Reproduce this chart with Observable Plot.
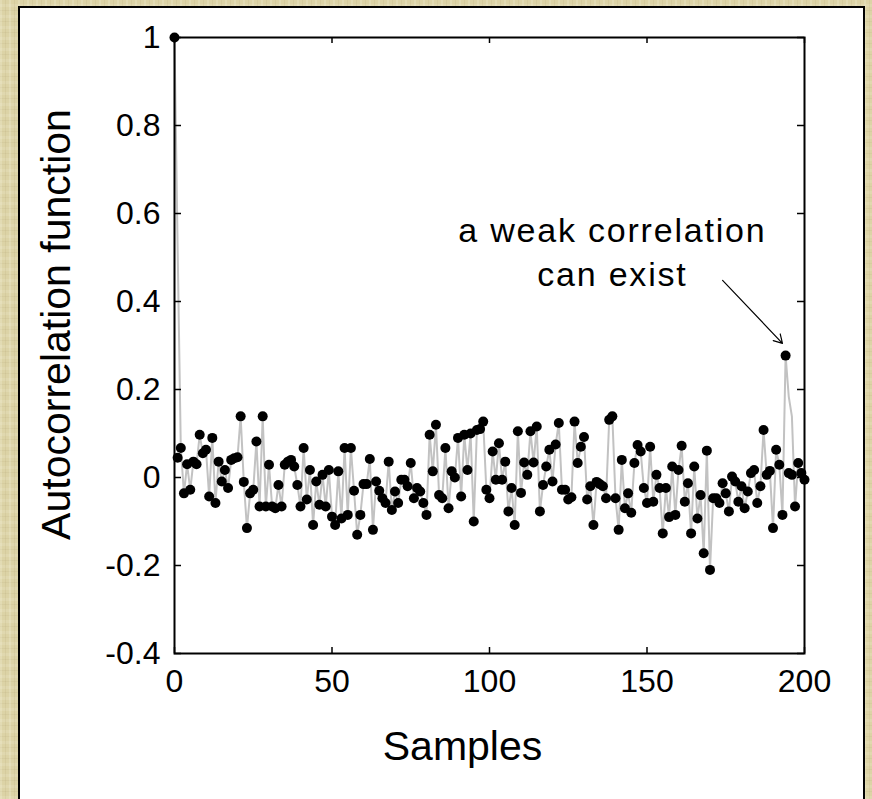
<!DOCTYPE html>
<html>
<head>
<meta charset="utf-8">
<script src="https://cdn.jsdelivr.net/npm/d3@7"></script>
<script src="https://cdn.jsdelivr.net/npm/@observablehq/plot@0.6"></script>
<style>
html, body { margin: 0; padding: 0; width: 872px; height: 799px; overflow: hidden; }
body {
  background-color: #dcd3a6;
  background-image:
    repeating-linear-gradient(90deg, rgba(255,255,240,0.18) 0 2px, rgba(0,0,0,0) 2px 5px, rgba(150,130,80,0.10) 5px 6px, rgba(0,0,0,0) 6px 9px),
    repeating-linear-gradient(0deg, rgba(255,255,240,0.12) 0 3px, rgba(0,0,0,0) 3px 7px, rgba(140,120,70,0.08) 7px 8px, rgba(0,0,0,0) 8px 11px);
  position: relative;
}
#panel { position: absolute; left: 18px; top: 6px; width: 843px; height: 820px; background: #fff; border: 2px solid #000; }
#chart { position: absolute; left: 0; top: 0; }
</style>
</head>
<body>
<div id="panel"></div>
<div id="chart"></div>
<script>
// Autocorrelation values for lags 0..200 (dots)
const acf = [
  1.0, 0.045, 0.067, -0.036, 0.03, -0.028, 0.036, 0.03, 0.097, 0.055,
  0.063, -0.043, 0.09, -0.058, 0.036, -0.009, 0.017, -0.024, 0.04, 0.044,
  0.046, 0.139, -0.01, -0.115, -0.036, -0.028, 0.082, -0.066, 0.139, -0.066,
  0.029, -0.066, -0.07, -0.017, -0.066, 0.029, 0.036, 0.04, 0.025, -0.017,
  -0.066, 0.067, -0.05, 0.017, -0.108, -0.009, -0.062, 0.006, -0.066, 0.017,
  -0.089, -0.108, 0.014, -0.093, 0.067, -0.085, 0.067, -0.03, -0.13, -0.085,
  -0.015, -0.015, 0.042, -0.119, -0.009, -0.03, -0.047, -0.058, 0.036, -0.074,
  -0.032, -0.058, -0.005, -0.005, -0.02, 0.033, -0.047, -0.024, -0.032, -0.058,
  -0.085, 0.097, 0.014, 0.12, -0.04, -0.047, 0.067, -0.07, 0.014, 0.0,
  0.09, -0.043, 0.097, 0.017, 0.1, -0.1, 0.108, 0.11, 0.127, -0.028,
  -0.047, 0.059, -0.005, 0.078, -0.005, 0.036, -0.077, -0.024, -0.108, 0.105,
  -0.035, 0.034, 0.006, 0.105, 0.034, 0.116, -0.077, -0.017, 0.025, 0.063,
  -0.009, 0.075, 0.124, -0.028, -0.028, -0.05, -0.045, 0.127, 0.033, 0.07,
  0.092, -0.05, -0.02, -0.108, -0.01, -0.015, -0.02, -0.047, 0.131, 0.139,
  -0.047, -0.119, 0.04, -0.07, -0.036, -0.08, 0.033, 0.074, 0.059, -0.024,
  -0.058, 0.07, -0.055, 0.006, -0.024, -0.127, -0.024, -0.09, 0.025, -0.085,
  0.017, 0.072, -0.055, -0.013, -0.127, 0.025, -0.093, -0.04, -0.172, 0.061,
  -0.21, -0.047, -0.047, -0.058, -0.013, -0.036, -0.077, 0.002, -0.009, -0.055,
  -0.02, -0.07, -0.032, 0.01, 0.017, -0.058, -0.02, 0.108, 0.006, 0.015,
  -0.115, 0.063, 0.029, -0.085, 0.277, 0.01, 0.006, -0.066, 0.033, 0.01,
  -0.005
];

// Gray line vertices that differ from the dots
const lineOverrideLag = [1, 195, 196];
const lineOverrideValue = [0.52, 0.184, 0.139];

const xTicks = [0, 50, 100, 150, 200];
const yTicks = [-0.4, -0.2, 0, 0.2, 0.4, 0.6, 0.8, 1];
const yTickLabels = ["-0.4", "-0.2", "0", "0.2", "0.4", "0.6", "0.8", "1"];

const xLabel = "Samples";
const yLabel = "Autocorrelation function";

const annotationLines = ["a weak correlation", "can exist"];
const annotationLag = [139, 139];
const annotationValue = [0.559, 0.459];
const arrowFrom = {lag: 174, value: 0.448};
const arrowTo = {lag: 193, value: 0.305};

const points = acf.map((value, lag) => ({lag, value}));
const linePts = points.map(d => {
  const k = lineOverrideLag.indexOf(d.lag);
  return k >= 0 ? {lag: d.lag, value: lineOverrideValue[k]} : d;
});
const annotations = annotationLines.map((t, i) => ({t, lag: annotationLag[i], value: annotationValue[i]}));

const chart = Plot.plot({
  width: 872,
  height: 799,
  marginTop: 37,
  marginLeft: 174,
  marginRight: 68,
  marginBottom: 146,
  x: {domain: [0, 200]},
  y: {domain: [-0.4, 1]},
  style: {background: "transparent", fontFamily: "'Liberation Sans', Arial, sans-serif", color: "#000", overflow: "visible"},
  marks: [
    Plot.line(linePts, {x: "lag", y: "value", stroke: "#c2c2c2", strokeWidth: 2}),
    Plot.dot(points, {x: "lag", y: "value", r: 5, fill: "#000", stroke: "none"}),
    Plot.frame({stroke: "#000", strokeWidth: 2}),
    Plot.tickX(xTicks, {x: d => d, stroke: "#000", strokeWidth: 1.5, insetBottom: 610}),
    Plot.tickX(xTicks, {x: d => d, stroke: "#000", strokeWidth: 1.5, insetTop: 610}),
    Plot.tickY(yTicks, {y: d => d, stroke: "#000", strokeWidth: 1.5, insetRight: 623}),
    Plot.tickY(yTicks, {y: d => d, stroke: "#000", strokeWidth: 1.5, insetLeft: 623}),
    Plot.axisX({ticks: xTicks, tickFormat: d => String(d), tickSize: 0, tickPadding: 16, fontSize: 32, anchor: "bottom", label: null}),
    Plot.axisY({ticks: yTicks, tickFormat: d => yTickLabels[yTicks.indexOf(d)], tickSize: 0, tickPadding: 14, fontSize: 32, anchor: "left", label: null}),
    Plot.text([xLabel], {text: d => d, frameAnchor: "bottom", dx: -27, dy: 93, fontSize: 41, lineAnchor: "middle", textAnchor: "middle"}),
    Plot.text([yLabel], {text: d => d, frameAnchor: "left", rotate: -90, dx: -118, dy: -21, fontSize: 41, lineAnchor: "middle", textAnchor: "middle"}),
    Plot.text(annotations, {x: "lag", y: "value", text: "t", fontSize: 34, lineAnchor: "middle", textAnchor: "middle"}),
    Plot.arrow([{from: arrowFrom, to: arrowTo}], {x1: d => d.from.lag, y1: d => d.from.value, x2: d => d.to.lag, y2: d => d.to.value, stroke: "#000", strokeWidth: 1.2, headLength: 12})
  ]
});

d3.select(chart).selectAll("text").filter(function() {
  return annotationLines.includes(this.textContent);
}).style("letter-spacing", "1.8px");

document.getElementById("chart").appendChild(chart);
</script>
</body>
</html>
